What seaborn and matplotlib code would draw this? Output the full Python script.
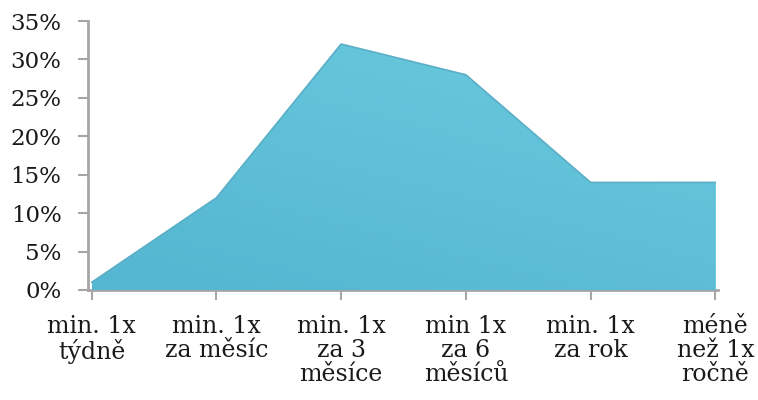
import matplotlib
matplotlib.use("Agg")
import matplotlib.pyplot as plt
import numpy as np
import pandas as pd
import seaborn as sns
from matplotlib.colors import LinearSegmentedColormap

categories = [
    "min. 1x\ntýdně",
    "min. 1x\nza měsíc",
    "min. 1x\nza 3\nměsíce",
    "min 1x\nza 6\nměsíců",
    "min. 1x\nza rok",
    "méně\nnež 1x\nročně",
]
shares = [1, 12, 32, 28, 14, 14]
y_ticks = [0, 5, 10, 15, 20, 25, 30, 35]

df = pd.DataFrame({"pos": np.arange(len(categories)), "share": shares})

sns.set_theme(style="white")
plt.rcParams["font.family"] = ["DejaVu Serif"]

fig = plt.figure(figsize=(7.58, 4.0), dpi=100)
ax = fig.add_axes([0.116, 0.275, 0.831, 0.6725])

area = ax.fill_between(df["pos"], 0, df["share"], color="#62c3d9",
                       linewidth=0, zorder=2)

# diagonal gradient clipped to the area: deeper at lower left, lighter upper right
gx, gy = np.meshgrid(np.linspace(0, 1, 300), np.linspace(0, 1, 200))
grad = np.clip(0.55 * gx + 0.9 * gy - 0.1, 0, 1)
cmap = LinearSegmentedColormap.from_list("area", ["#56b7d2", "#66c6db"])
img = ax.imshow(grad, cmap=cmap, origin="lower", extent=[0, 5, 0, 35],
                aspect="auto", interpolation="bilinear", zorder=3)
img.set_clip_path(area.get_paths()[0], transform=ax.transData)

sns.lineplot(data=df, x="pos", y="share", color="#5aaec5", linewidth=1.2,
             ax=ax, zorder=4)

ax.set_xlim(-0.03, 5.02)
ax.set_ylim(0, 35)
ax.set_xticks(df["pos"])
ax.set_xticklabels(categories, fontsize=17, color="#1a1a1a", linespacing=1.05)
ax.set_yticks(y_ticks)
ax.set_yticklabels([f"{v}%" for v in y_ticks], fontsize=16.5, color="#1a1a1a")
ax.set_xlabel("")
ax.set_ylabel("")

for side in ["top", "right"]:
    ax.spines[side].set_visible(False)
for side in ["left", "bottom"]:
    ax.spines[side].set_color("#a6a6a6")
    ax.spines[side].set_linewidth(2)
ax.tick_params(axis="both", which="both", direction="out", length=7, width=1.5,
               color="#a6a6a6", left=True, bottom=True)
ax.tick_params(axis="x", pad=11)
ax.tick_params(axis="y", pad=12)

fig.savefig("out.png", dpi=100)
